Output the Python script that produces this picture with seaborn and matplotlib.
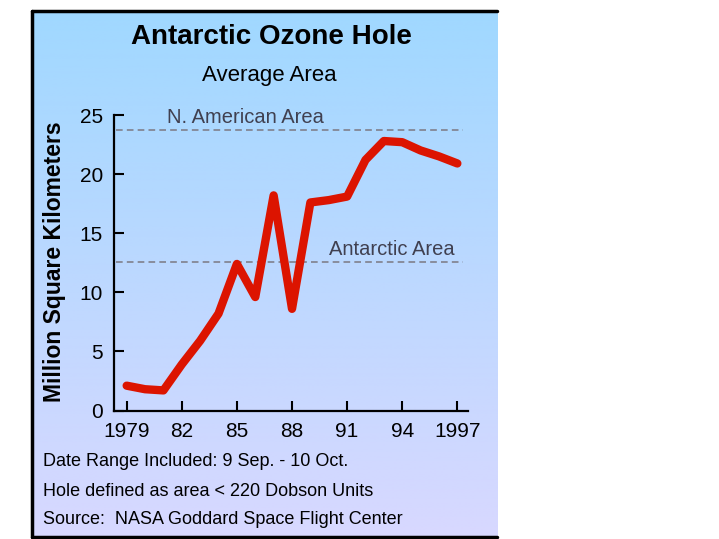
import numpy as np
import pandas as pd
import matplotlib
matplotlib.use("Agg")
import matplotlib.pyplot as plt
from matplotlib.lines import Line2D
import seaborn as sns

# ---- data ----
years = [1979, 1980, 1981, 1982, 1983, 1984, 1985, 1986, 1987, 1988,
         1989, 1990, 1991, 1992, 1993, 1994, 1995, 1996, 1997]
area = [2.1, 1.8, 1.7, 3.9, 5.9, 8.2, 12.4, 9.6, 18.2, 8.6,
        17.6, 17.8, 18.1, 21.2, 22.8, 22.7, 22.0, 21.5, 20.9]
xtick_years = [1979, 1982, 1985, 1988, 1991, 1994, 1997]
xtick_labels = ["1979", "82", "85", "88", "91", "94", "1997"]
ytick_values = [0, 5, 10, 15, 20, 25]
na_area = 23.7
antarctic_area = 12.6
title = "Antarctic Ozone Hole"
subtitle = "Average Area"
ylabel = "Million Square Kilometers"
footer = ["Date Range Included: 9 Sep. - 10 Oct.",
          "Hole defined as area < 220 Dobson Units",
          "Source:  NASA Goddard Space Flight Center"]

df = pd.DataFrame({"year": years, "area": area})

sns.set_style("ticks")
plt.rcParams["font.family"] = ["Liberation Sans", "DejaVu Sans"]
plt.rcParams["text.color"] = "black"
plt.rcParams["axes.labelcolor"] = "black"
plt.rcParams["xtick.color"] = "black"
plt.rcParams["ytick.color"] = "black"

W, H = 719, 539
fig = plt.figure(figsize=(W / 100, H / 100), dpi=100)
fig.patch.set_facecolor("white")

# gradient background box
bg = fig.add_axes([32 / W, 1 - 537 / H, (497 - 32) / W, (537 - 11) / H])
top_c = np.array([160, 216, 255]) / 255
bot_c = np.array([216, 216, 255]) / 255
t = np.linspace(0, 1, 256)[:, None]
grad = (top_c[None, :] * (1 - t) + bot_c[None, :] * t)[:, None, :]
bg.imshow(grad, aspect="auto", extent=[0, 1, 0, 1], interpolation="bilinear")
bg.set_axis_off()
bg.set_zorder(0)

# box borders (left, top, bottom)
for xs, ys in [([32 / W, 32 / W], [1 - 537 / H, 1 - 11 / H]),
               ([32 / W, 497 / W], [1 - 11 / H, 1 - 11 / H]),
               ([32 / W, 497 / W], [1 - 537 / H, 1 - 537 / H])]:
    fig.add_artist(Line2D(xs, ys, color="black", lw=2.5))

ax = fig.add_axes([114 / W, 1 - 410.5 / H, (468 - 114) / W, (410.5 - 115) / H])
ax.set_zorder(1)
ax.patch.set_alpha(0)

ax.hlines([na_area, antarctic_area], 1978.42, 1997.3,
          colors="#80808c", linewidth=1.2, linestyles=(0, (4, 2.5)))
sns.lineplot(data=df, x="year", y="area", ax=ax, color="#dc1400",
             linewidth=6, legend=False)

ax.text(1981.2, 24.8, "N. American Area", fontsize=14.5, color="#404050",
        ha="left", va="center")
ax.text(1990.0, 13.6, "Antarctic Area", fontsize=14.5, color="#404050",
        ha="left", va="center")

ax.set_xlim(1978.31, 1997.58)
ax.set_ylim(0, 25)
ax.set_xticks(xtick_years)
ax.set_xticklabels(xtick_labels)
ax.set_yticks(ytick_values)
ax.set_xlabel("")
ax.set_ylabel("")
for s in ["top", "right"]:
    ax.spines[s].set_visible(False)
for s in ["left", "bottom"]:
    ax.spines[s].set_linewidth(1.6)
    ax.spines[s].set_color("black")
ax.tick_params(direction="in", length=7, width=1.5, labelsize=15, pad=8,
               colors="black")

fig.text(271 / W, 1 - 37 / H, title, ha="center", va="center",
         fontsize=20, fontweight="bold", color="black")
fig.text(269 / W, 1 - 76 / H, subtitle, ha="center", va="center", fontsize=16,
         color="black")
fig.text(54 / W, 1 - 262 / H, ylabel, ha="center", va="center", rotation=90,
         fontsize=16.5, fontweight="bold", color="black")
for i, line in enumerate(footer):
    fig.text(43 / W, 1 - (462 + 29 * i) / H, line, ha="left", va="center",
             fontsize=13, color="black")

fig.savefig("out.png", dpi=100)
